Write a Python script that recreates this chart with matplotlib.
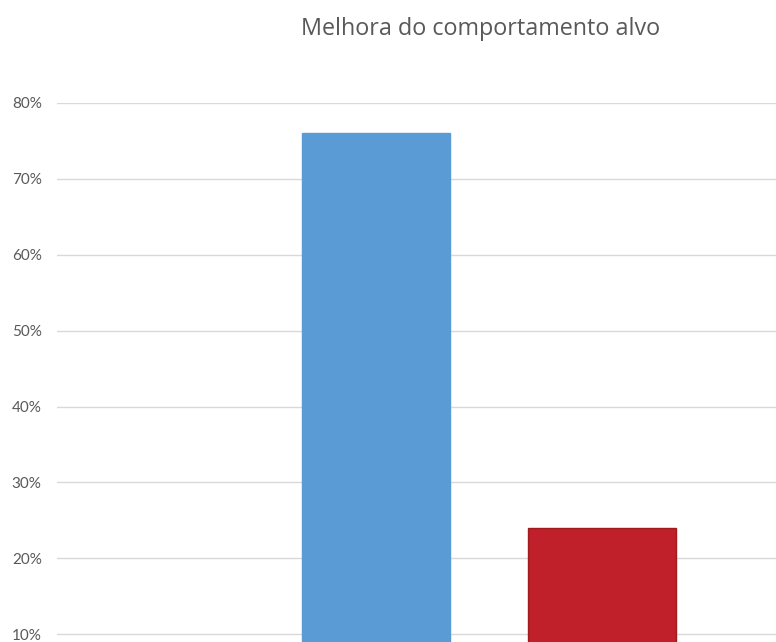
import matplotlib.pyplot as plt
from matplotlib.ticker import PercentFormatter

# two groups compared on the share of improvement
groups = ["Sim", "Não"]
share = [0.76, 0.24]
bar_colors = ["#5b9bd5", "#c0202a"]
edge_colors = ["#5b9bd5", "#a01a1f"]
ticks = [0.1, 0.2, 0.3, 0.4, 0.5, 0.6, 0.7, 0.8]

plt.rcParams['font.family'] = ['Lato', 'DejaVu Sans']

fig = plt.figure(figsize=(7.76, 6.42), dpi=100)
W, H = 776, 642
# plot area: 0% sits below the lower edge of the canvas
left, right = 57, 776
top, zero = 103, 710
ax = fig.add_axes([left / W, (H - zero) / H, (right - left) / W, (zero - top) / H])

x = list(range(len(groups)))
ax.bar(x, share, width=0.655, color=bar_colors, edgecolor=edge_colors,
       linewidth=1, zorder=3)

ax.set_xlim(-1.4115, 1.77)
ax.set_ylim(0, 0.8)
ax.set_yticks(ticks)
ax.yaxis.set_major_formatter(PercentFormatter(1.0, decimals=0))
ax.grid(axis='y', color='#d9d9d9', linewidth=1.0, zorder=0)
ax.tick_params(axis='y', length=0, pad=11, labelsize=11, labelcolor='#595959')
ax.tick_params(axis='x', bottom=False, labelbottom=False)
for s in ax.spines.values():
    s.set_visible(False)

fig.text(481 / W, 1 - 35 / H, "Melhora do comportamento alvo", ha='center',
         va='baseline', fontsize=16.8, color='#595959',
         family=['Open Sans', 'DejaVu Sans'])

fig.savefig("out.png", dpi=100)
